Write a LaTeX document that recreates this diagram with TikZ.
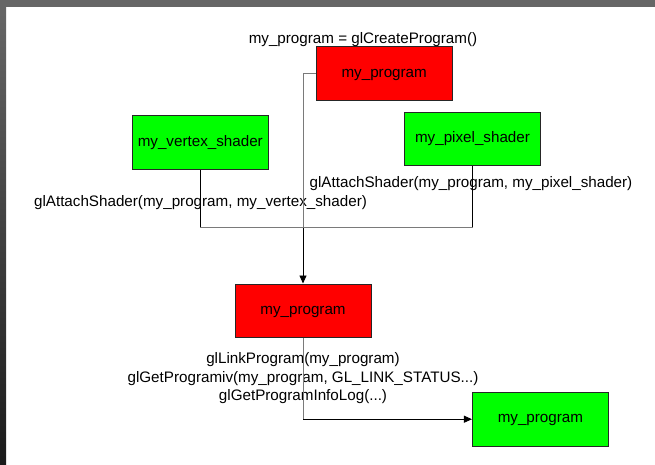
\documentclass[tikz,border=0pt]{standalone}
\usepackage{fontspec}
\setmainfont{Liberation Sans}
\usetikzlibrary{arrows.meta}
\definecolor{boxred}{HTML}{FF0000}
\definecolor{boxgreen}{HTML}{00FF00}
\definecolor{wiregray}{HTML}{7A7A7A}
\definecolor{framegray}{HTML}{666666}
\definecolor{framedark}{HTML}{1A1A1A}
\tikzset{
  stage/.style={draw=black!85, line width=0.9pt, rectangle, minimum width=136pt,
    minimum height=53.5pt, inner sep=0pt, text height=8pt, text depth=0.8pt,
    font=\fontsize{15.2}{18}\selectfont},
  progbox/.style={stage, fill=boxred},
  shaderbox/.style={stage, fill=boxgreen},
  call/.style={font=\fontsize{15.2}{18.5}\selectfont, inner sep=0pt, align=center},
  wire/.style={line width=0.9pt, draw=black},
  softwire/.style={line width=0.9pt, draw=wiregray},
  tip/.style={-{Triangle[length=8pt,width=7pt]}}
}
\begin{document}
\begin{tikzpicture}[x=1pt,y=-1pt]
  \useasboundingbox (0,0) rectangle (655,465);
  % window frame
  \fill[white] (0,0) rectangle (655,465);
  \fill[framegray] (0,0) rectangle (655,7);
  \shade[top color=framegray, bottom color=framedark] (0,7) rectangle (6,465);

  % stages
  \node[progbox]   (create) at (384.2,73.7)  {my\_program};
  \node[shaderbox] (vert)   at (200.3,142.5) {my\_vertex\_shader};
  \node[shaderbox] (pix)    at (472.5,139.2) {my\_pixel\_shader};
  \node[progbox]   (attach) at (303,310.7)   {my\_program};
  \node[shaderbox] (linked) at (540.4,419.2) {my\_program};

  % call labels
  \node[call] (lcreate) at (363,40)  {my\_program = glCreateProgram()};
  \node[call] (lvert)   at (200.5,203) {glAttachShader(my\_program, my\_vertex\_shader)};
  \node[call] (lpix)    at (471,184) {glAttachShader(my\_program, my\_pixel\_shader)};
  \node[call] (llink)   at (303,378.5) {glLinkProgram(my\_program)\\
    glGetProgramiv(my\_program, GL\_LINK\_STATUS...)\\ glGetProgramInfoLog(...)};

  % junction points
  \coordinate (drop)  at (303,73.7);
  \coordinate (join)  at (303,227.7);
  \coordinate (vjoin) at (200.3,227.7);
  \coordinate (pjoin) at (472.5,227.7);
  \coordinate (bend)  at (303,419.2);

  % attach wiring
  \draw[softwire] (create.west) -- (drop) -- (join);
  \draw[wire] (vert.south) -- (vjoin);
  \draw[wire] (pix.south) -- (pjoin);
  \draw[softwire] (vjoin) -- (pjoin);
  \draw[wire, tip] (join) -- (attach.north);

  % link wiring
  \draw[softwire] (attach.south) -- (bend);
  \draw[wire, tip] (bend) -- (linked.west);
\end{tikzpicture}
\end{document}
